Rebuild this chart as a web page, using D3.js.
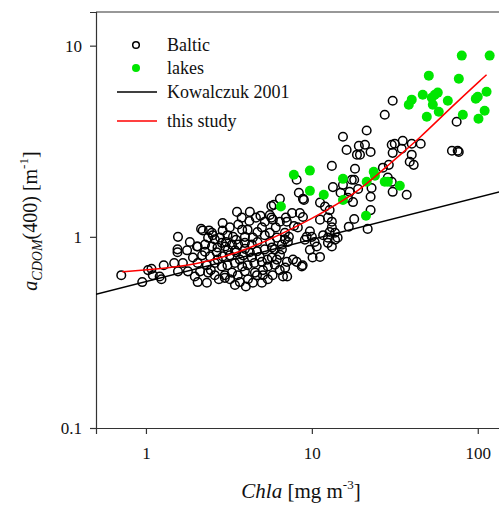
<!DOCTYPE html>
<html>
<head>
<meta charset="utf-8">
<script src="https://cdn.jsdelivr.net/npm/d3@7"></script>
<style>
  body { margin: 0; background: #fff; }
  svg { display: block; font-family: "Liberation Serif", "Times New Roman", serif; }
</style>
</head>
<body>
<div id="chart"></div>
<script>
// Baltic samples: Chla [mg m-3] and aCDOM(400) [m-1]
var balticChl = [
  0.71, 0.95, 1.03, 1.08, 1.10, 1.21, 1.24, 1.28, 1.48, 1.55, 1.55, 1.56, 1.56, 1.77, 1.67, 2.03, 2.2, 2.5, 2.9, 1.84, 1.92, 1.79, 1.97,
  5.7, 4.9, 4.6, 4.2, 5.7, 3.6, 3.2, 2.9, 2.4, 2.15, 3.8, 4.1, 4.7, 5.2, 5.6,
  2.37, 2.6, 2.8, 3.1, 3.35, 2.05, 2.27, 2.5, 2.7, 3.0, 3.3, 3.6, 3.95, 4.35, 4.7,
  2.18, 2.43, 2.67, 2.9, 3.2, 3.5, 3.85, 4.23, 4.67, 5.2, 5.75,
  2.05, 2.33, 2.6, 2.87, 3.1, 3.44, 3.8, 4.1, 4.5, 5.0, 5.4,
  2.12, 2.37, 2.6, 2.99, 3.3, 3.58, 3.95, 4.54, 5.07,
  2.05, 2.33, 2.99, 3.21, 3.68, 4.12, 4.67, 5.07,
  5.98, 6.6, 5.74, 6.15, 7.7, 8.8, 8.7, 6.4, 6.9, 5.8, 7.1, 5.58, 6.15, 6.88, 7.17,
  2.53, 3.49, 4.41, 5.0, 3.95, 2.71, 3.68, 4.35, 2.27, 3.12, 4.86, 5.43, 5.98, 6.42, 6.6, 6.06,
  6.42, 5.21, 4.23, 3.78, 3.54, 3.04, 2.46, 2.75, 3.44, 4.0, 4.41, 5.0, 5.43, 3.95, 3.44, 2.87,
  16.2, 18.7, 13.2, 8.1, 8.35, 8.84, 8.96, 6.42, 5.9, 13.4, 14.9, 16.9, 17.7, 11.2, 12.0, 12.8,
  7.6, 8.47, 8.84, 6.97, 7.07, 5.58, 5.82, 11.2, 12.5, 13.2, 18.0, 7.8, 8.23, 16.7, 9.73, 13.2,
  13.8, 9.3, 10.0, 9.08, 11.7, 12.5, 13.8, 14.3, 10.7, 9.73, 10.1, 11.2, 12.5, 13.2, 15.4, 18.0,
  16.5, 12.8, 6.88, 7.27, 8.1, 7.07, 6.7, 10.4,
  30.7, 27.5, 21.4, 15.4, 19.2, 20.9, 22.6, 19.5, 30.3, 31.6, 35.3, 40.0, 45.3, 34.8, 30.7, 40.0,
  38.9, 41.1, 18.2, 17.4, 26.8, 29.1, 19.0, 22.9, 22.6, 28.7, 30.3, 30.7, 37.3, 22.6, 21.7,
  74.6, 69.9, 75.7, 76.8
];
var balticA = [
  0.63, 0.58, 0.67, 0.68, 0.63, 0.62, 0.60, 0.71, 0.73, 0.86, 0.83, 1.0, 0.66, 0.85, 0.73, 0.89, 1.08, 1.05, 1.18, 0.94, 0.78, 0.66, 0.62,
  1.45, 1.29, 1.26, 1.21, 1.26, 1.16, 1.12, 1.08, 1.08, 1.10, 1.09, 1.09, 1.06, 1.02, 0.94,
  0.99, 0.97, 0.99, 1.02, 1.0, 0.89, 0.91, 0.89, 0.88, 0.89, 0.91, 0.91, 0.93, 0.91, 0.94,
  0.80, 0.79, 0.83, 0.79, 0.80, 0.83, 0.80, 0.83, 0.84, 0.86, 0.88,
  0.73, 0.71, 0.73, 0.70, 0.71, 0.73, 0.70, 0.71, 0.73, 0.74, 0.76,
  0.66, 0.65, 0.63, 0.63, 0.65, 0.63, 0.66, 0.65, 0.67,
  0.58, 0.575, 0.61, 0.60, 0.58, 0.60, 0.63, 0.63,
  0.86, 0.86, 0.78, 0.76, 0.76, 0.71, 0.70, 0.67, 0.69, 0.63, 0.62, 1.05, 0.99, 0.97, 0.94,
  1.02, 0.965, 0.99, 1.12, 1.0, 0.76, 0.76, 0.78, 0.835, 0.855, 0.785, 0.70, 0.715, 0.805, 0.91, 1.12,
  1.2, 1.2, 1.35, 1.26, 1.35, 0.94, 0.67, 0.60, 0.56, 0.55, 0.575, 0.575, 0.60, 0.865, 0.85, 0.93,
  2.85, 2.69, 2.35, 1.99, 1.70, 1.58, 1.56, 1.58, 1.47, 1.82, 1.70, 1.72, 1.52, 1.51, 1.44, 1.38,
  1.33, 1.33, 1.27, 1.26, 1.2, 1.30, 1.23, 1.23, 1.26, 1.2, 1.24, 1.14, 1.12, 1.13, 1.07, 1.12,
  1.05, 1.0, 1.0, 0.965, 1.02, 0.99, 0.965, 0.99, 0.89, 0.855, 0.78, 0.785, 0.93, 0.89, 1.87, 1.99,
  1.60, 1.06, 1.05, 1.0, 0.74, 0.74, 0.62, 0.94,
  5.15, 4.35, 3.6, 3.34, 2.99, 3.03, 2.78, 2.69, 3.03, 3.07, 3.18, 3.07, 3.07, 2.89, 2.75, 2.69,
  2.47, 2.38, 2.27, 1.99, 2.30, 2.38, 1.78, 1.80, 1.62, 2.04, 1.94, 1.72, 1.66, 1.38, 1.10,
  4.0, 2.82, 2.82, 2.78
];

// lakes
var lakesChl = [6.51, 7.79, 9.73, 9.73, 11.8, 15.4, 15.4, 21.2, 21.4, 23.6, 24.0, 27.5, 28.7, 33.9, 38.4, 40.0, 46.6,
  50.7, 49.3, 52.8, 55.1, 57.4, 53.6, 58.2, 66.0, 76.9, 80.1, 81.3, 97.3, 100, 101, 110, 113, 118];
var lakesA = [1.44, 2.11, 2.22, 1.74, 1.66, 2.01, 1.56, 1.29, 1.94, 2.19, 2.09, 1.94, 1.94, 1.85, 4.91, 5.22, 5.54,
  6.97, 4.25, 5.34, 5.54, 5.68, 4.91, 4.51, 5.15, 6.72, 8.87, 4.35, 5.28, 5.41, 4.15, 4.57, 5.74, 8.87];

// model lines
var kowalczukChl = [0.5, 140];
var kowalczukA = [0.50, 1.73];
var studyChl = [0.72, 1, 2, 4.2, 10.4, 19.5, 30, 45, 68, 113];
var studyA = [0.656, 0.67, 0.71, 0.855, 1.26, 1.74, 2.45, 3.3, 4.7, 7.05];

var xTicks = [1, 10, 100];
var yTicks = [0.1, 1, 10];

var width = 499, height = 509;
var margin = { left: 96, right: -3, top: 12, bottom: 81 };

var svg = d3.select('#chart').append('svg')
    .attr('width', width)
    .attr('height', height);

var x = d3.scaleLog().domain([0.5, 140]).range([margin.left, width - margin.right]);
var y = d3.scaleLog().domain([0.1, 15]).range([height - margin.bottom, margin.top]);

svg.append('clipPath').attr('id', 'clip').append('rect')
    .attr('x', margin.left).attr('y', margin.top)
    .attr('width', width - margin.left - margin.right)
    .attr('height', height - margin.top - margin.bottom);

// top frame line
svg.append('line')
    .attr('x1', margin.left).attr('x2', width)
    .attr('y1', margin.top).attr('y2', margin.top)
    .attr('stroke', '#333').attr('stroke-width', 1.2);

// axes
var xAxis = svg.append('g')
    .attr('transform', 'translate(0,' + (height - margin.bottom) + ')')
    .call(d3.axisBottom(x).tickValues(xTicks).tickFormat(d3.format('~g')).tickSize(6).tickPadding(8));
var yAxis = svg.append('g')
    .attr('transform', 'translate(' + margin.left + ',0)')
    .call(d3.axisLeft(y).tickValues(yTicks).tickFormat(d3.format('~g')).tickSize(6).tickPadding(8));

[xAxis, yAxis].forEach(function(a) {
    a.select('.domain').attr('stroke', '#333').attr('stroke-width', 1.2);
    a.selectAll('.tick line').attr('stroke', '#333').attr('stroke-width', 1.2);
    a.selectAll('.tick text')
      .attr('font-family', '"Liberation Serif", serif')
      .attr('font-size', 17)
      .attr('fill', '#111');
});
xAxis.selectAll('.tick text').attr('dy', '1em');

var g = svg.append('g').attr('clip-path', 'url(#clip)');

// Baltic points (open circles)
var baltic = balticChl.map(function(c, i) { return { chl: c, a: balticA[i] }; });
g.selectAll('circle.baltic')
    .data(baltic)
    .enter().append('circle')
    .attr('class', 'baltic')
    .attr('cx', function(d) { return x(d.chl); })
    .attr('cy', function(d) { return y(d.a); })
    .attr('r', 4.3)
    .attr('fill', 'none')
    .attr('stroke', '#000')
    .attr('stroke-width', 1.5);

// lakes (filled green)
var lakes = lakesChl.map(function(c, i) { return { chl: c, a: lakesA[i] }; });
g.selectAll('circle.lake')
    .data(lakes)
    .enter().append('circle')
    .attr('class', 'lake')
    .attr('cx', function(d) { return x(d.chl); })
    .attr('cy', function(d) { return y(d.a); })
    .attr('r', 5)
    .attr('fill', '#00e600');

var line = d3.line()
    .x(function(d) { return x(d[0]); })
    .y(function(d) { return y(d[1]); });

g.append('path')
    .datum(kowalczukChl.map(function(c, i) { return [c, kowalczukA[i]]; }))
    .attr('d', line)
    .attr('fill', 'none')
    .attr('stroke', '#000')
    .attr('stroke-width', 1.5);

g.append('path')
    .datum(studyChl.map(function(c, i) { return [c, studyA[i]]; }))
    .attr('d', line.curve(d3.curveBasis))
    .attr('fill', 'none')
    .attr('stroke', '#ff0000')
    .attr('stroke-width', 1.5);

// legend
var legend = svg.append('g').attr('font-size', 18);
var legendItems = [
  { label: 'Baltic', type: 'open', y: 45 },
  { label: 'lakes', type: 'fill', y: 68 },
  { label: 'Kowalczuk 2001', type: 'black', y: 92 },
  { label: 'this study', type: 'red', y: 121 }
];
legendItems.forEach(function(item) {
    if (item.type === 'open') {
        legend.append('circle').attr('cx', 136).attr('cy', item.y).attr('r', 3.3)
          .attr('fill', 'none').attr('stroke', '#000').attr('stroke-width', 1.5);
    } else if (item.type === 'fill') {
        legend.append('circle').attr('cx', 136).attr('cy', item.y).attr('r', 4)
          .attr('fill', '#00e600');
    } else {
        legend.append('line').attr('x1', 117).attr('x2', 157)
          .attr('y1', item.y).attr('y2', item.y)
          .attr('stroke', item.type === 'red' ? '#ff0000' : '#000')
          .attr('stroke-width', 1.5);
    }
    legend.append('text')
      .attr('x', 167).attr('y', item.y + 6)
      .attr('fill', '#111')
      .text(item.label);
});

// x axis title
var xt = svg.append('text')
    .attr('x', 301).attr('y', 498)
    .attr('text-anchor', 'middle')
    .attr('font-size', 21)
    .attr('fill', '#111');
xt.append('tspan').attr('font-style', 'italic').text('Chla');
xt.append('tspan').text(' [mg m');
xt.append('tspan').attr('font-size', 13).attr('dy', -9).text('-3');
xt.append('tspan').attr('dy', 9).text(']');

// y axis title
var yt = svg.append('text')
    .attr('transform', 'translate(37,' + 221 + ') rotate(-90)')
    .attr('text-anchor', 'middle')
    .attr('font-size', 20)
    .attr('fill', '#111');
yt.append('tspan').attr('font-style', 'italic').text('a');
yt.append('tspan').attr('font-style', 'italic').attr('font-size', 14).attr('dy', 5).text('CDOM');
yt.append('tspan').attr('dy', -5).text('(400) [m');
yt.append('tspan').attr('font-size', 13).attr('dy', -9).text('-1');
yt.append('tspan').attr('dy', 9).text(']');
</script>
</body>
</html>
